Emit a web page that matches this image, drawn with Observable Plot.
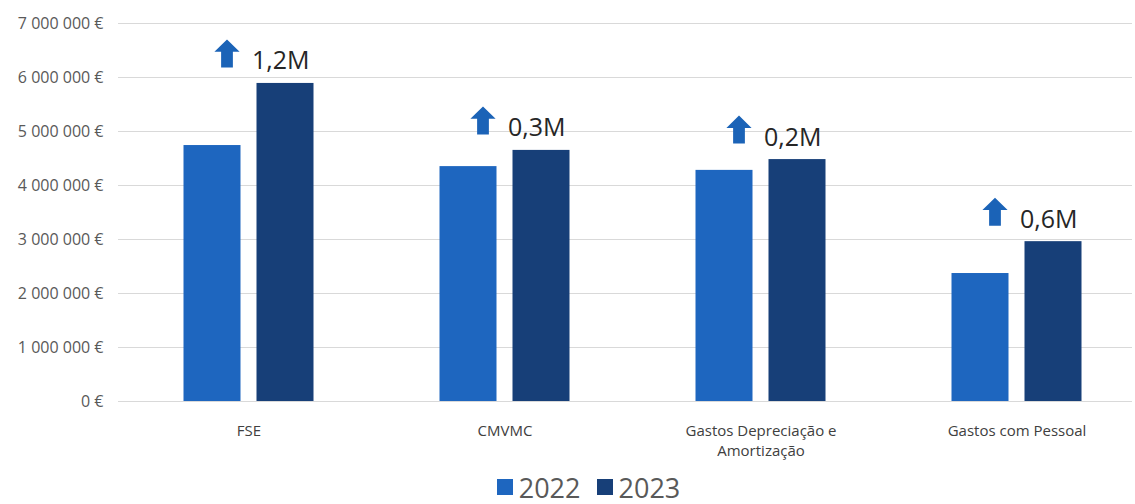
<!DOCTYPE html>
<html>
<head>
<meta charset="utf-8">
<script src="https://cdn.jsdelivr.net/npm/d3@7"></script>
<script src="https://cdn.jsdelivr.net/npm/@observablehq/plot@0.6"></script>
<style>
  body { margin: 0; background: #fff; font-family: "Open Sans", sans-serif; }
  #legend { display: flex; justify-content: center; align-items: center; height: 44px; padding-left: 42px; box-sizing: border-box; font-size: 27px; color: #595959; padding-top: 10px; }
  .item { display: flex; align-items: center; margin: 0 8px; }
  .sw { width: 16px; height: 16px; margin-right: 6px; }
</style>
</head>
<body>
<div id="chart"></div>
<div id="legend"></div>
<script>
const categories = ["FSE", "CMVMC", "Gastos Depreciação e Amortização", "Gastos com Pessoal"];
const xTickLabels = ["FSE", "CMVMC", "Gastos Depreciação e\nAmortização", "Gastos com Pessoal"];
const years = ["2022", "2023"];
const values2022 = [4740000, 4350000, 4280000, 2370000];
const values2023 = [5890000, 4650000, 4480000, 2960000];
const increaseLabels = ["1,2M", "0,3M", "0,2M", "0,6M"];
const yTicks = [0, 1000000, 2000000, 3000000, 4000000, 5000000, 6000000, 7000000];

const colors = {"2022": "#1e66bf", "2023": "#173f78"};
const arrowColor = "#1b63b7";

const rows2022 = categories.map((c, i) => ({category: c, value: values2022[i], tick: xTickLabels[i]}));
const rows2023 = categories.map((c, i) => ({category: c, value: values2023[i], label: increaseLabels[i]}));

const fmt = d => d3.format(",")(d).replace(/,/g, " ") + " €";

const arrowSymbol = {
  draw(context, size) {
    const r = Math.sqrt(size / Math.PI);
    const hw = r * 0.9, sw = r * 0.42, hb = -r * 0.12;
    context.moveTo(0, -r);
    context.lineTo(hw, hb);
    context.lineTo(sw, hb);
    context.lineTo(sw, r);
    context.lineTo(-sw, r);
    context.lineTo(-sw, hb);
    context.lineTo(-hw, hb);
    context.closePath();
  }
};

const chart = Plot.plot({
  width: 1135,
  height: 460,
  marginLeft: 118,
  marginRight: 3,
  marginTop: 23,
  marginBottom: 59,
  style: {fontFamily: "Open Sans, sans-serif", fontSize: "16px", color: "#595959", background: "#fff"},
  x: {type: "band", domain: categories, paddingInner: 0.7775, paddingOuter: 0.368, align: 0.54, axis: null},
  y: {domain: [0, 7000000], ticks: yTicks, tickFormat: fmt, tickSize: 0, tickPadding: 15, label: null},
  marks: [
    Plot.ruleY(yTicks, {stroke: "#d9d9d9", strokeWidth: 1}),
    Plot.barY(rows2022, {x: "category", y: "value", fill: colors["2022"], dx: -36.5}),
    Plot.barY(rows2023, {x: "category", y: "value", fill: colors["2023"], dx: 36.5}),
    Plot.dot(rows2023, {x: "category", y: "value", symbol: arrowSymbol, r: 14, fill: arrowColor, stroke: null, dx: -22, dy: -30}),
    Plot.text(rows2023, {x: "category", y: "value", text: "label", textAnchor: "start", lineAnchor: "bottom", dx: 3, dy: -14, fontSize: 25, fill: "#262626"}),
    Plot.text(rows2022, {x: "category", text: "tick", frameAnchor: "bottom", lineAnchor: "top", dy: 20, fontSize: 15, lineHeight: 1.35, fill: "#404040"})
  ]
});
document.getElementById("chart").appendChild(chart);

const legend = document.getElementById("legend");
years.forEach(y => {
  const item = document.createElement("div");
  item.className = "item";
  const sw = document.createElement("div");
  sw.className = "sw";
  sw.style.background = colors[y];
  const t = document.createElement("span");
  t.textContent = y;
  item.appendChild(sw);
  item.appendChild(t);
  legend.appendChild(item);
});
</script>
</body>
</html>
